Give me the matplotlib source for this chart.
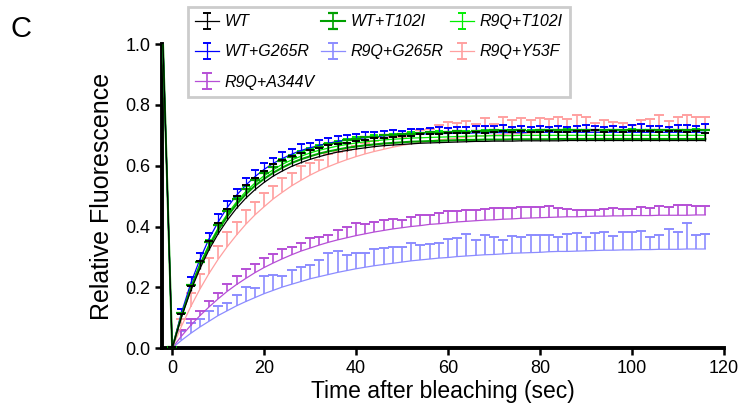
import matplotlib
matplotlib.use("Agg")
import matplotlib.pyplot as plt
import numpy as np

plt.rcParams['font.family'] = ['Liberation Sans', 'DejaVu Sans']

# time points (sec), -2 = pre-bleach
time = list(range(-2, 118, 2))

wt = [1.0,
      0.000, 0.101, 0.187, 0.260, 0.323, 0.376, 0.421, 0.460, 0.493, 0.521,
      0.545, 0.566, 0.583, 0.598, 0.610, 0.621, 0.630, 0.638, 0.645, 0.650,
      0.655, 0.659, 0.663, 0.666, 0.668, 0.670, 0.672, 0.674, 0.675, 0.676,
      0.677, 0.678, 0.679, 0.680, 0.680, 0.681, 0.681, 0.681, 0.682, 0.682,
      0.682, 0.682, 0.682, 0.683, 0.683, 0.683, 0.683, 0.683, 0.683, 0.683,
      0.683, 0.683, 0.683, 0.683, 0.683, 0.683, 0.683, 0.683, 0.683]
wt_err = [0.0,
          0.005, 0.012, 0.018, 0.025, 0.030, 0.035, 0.038, 0.040, 0.042, 0.040,
          0.038, 0.040, 0.036, 0.034, 0.033, 0.030, 0.028, 0.030, 0.027, 0.026,
          0.028, 0.025, 0.027, 0.024, 0.026, 0.028, 0.025, 0.029, 0.030, 0.027,
          0.031, 0.029, 0.030, 0.032, 0.028, 0.030, 0.033, 0.029, 0.031, 0.030,
          0.028, 0.032, 0.030, 0.029, 0.031, 0.030, 0.033, 0.028, 0.030, 0.029,
          0.031, 0.030, 0.032, 0.029, 0.030, 0.031, 0.028, 0.030, 0.026]

wt_t102i = [1.0,
            0.000, 0.105, 0.194, 0.270, 0.334, 0.388, 0.434, 0.473, 0.506, 0.534,
            0.557, 0.577, 0.594, 0.609, 0.621, 0.631, 0.640, 0.647, 0.653, 0.659,
            0.663, 0.667, 0.670, 0.673, 0.675, 0.677, 0.679, 0.680, 0.681, 0.682,
            0.683, 0.684, 0.685, 0.685, 0.686, 0.686, 0.686, 0.687, 0.687, 0.687,
            0.687, 0.687, 0.688, 0.688, 0.688, 0.688, 0.688, 0.688, 0.688, 0.688,
            0.688, 0.688, 0.688, 0.688, 0.688, 0.688, 0.688, 0.688, 0.688]
wt_t102i_err = [0.0,
                0.004, 0.010, 0.012, 0.014, 0.015, 0.016, 0.016, 0.017, 0.018, 0.018,
                0.019, 0.020, 0.020, 0.021, 0.022, 0.022, 0.023, 0.024, 0.023, 0.025,
                0.025, 0.026, 0.024, 0.027, 0.026, 0.028, 0.025, 0.027, 0.029, 0.026,
                0.028, 0.030, 0.027, 0.029, 0.028, 0.030, 0.027, 0.031, 0.029, 0.028,
                0.030, 0.029, 0.031, 0.028, 0.030, 0.029, 0.031, 0.030, 0.028, 0.030,
                0.029, 0.031, 0.030, 0.028, 0.030, 0.029, 0.031, 0.030, 0.029]

r9q_t102i = [1.0,
             0.000, 0.107, 0.198, 0.275, 0.340, 0.395, 0.441, 0.481, 0.515, 0.543,
             0.567, 0.587, 0.605, 0.619, 0.631, 0.642, 0.651, 0.658, 0.665, 0.670,
             0.675, 0.679, 0.682, 0.685, 0.687, 0.689, 0.691, 0.692, 0.693, 0.694,
             0.695, 0.696, 0.697, 0.698, 0.698, 0.699, 0.699, 0.699, 0.700, 0.700,
             0.700, 0.700, 0.700, 0.700, 0.700, 0.700, 0.700, 0.700, 0.700, 0.700,
             0.700, 0.700, 0.700, 0.700, 0.700, 0.700, 0.700, 0.700, 0.700]
r9q_t102i_err = [0.0,
                 0.004, 0.008, 0.010, 0.012, 0.014, 0.015, 0.016, 0.016, 0.017, 0.017,
                 0.016, 0.018, 0.017, 0.016, 0.018, 0.017, 0.016, 0.018, 0.017, 0.019,
                 0.018, 0.016, 0.019, 0.017, 0.018, 0.016, 0.019, 0.017, 0.018, 0.020,
                 0.017, 0.019, 0.018, 0.016, 0.019, 0.018, 0.020, 0.017, 0.019, 0.018,
                 0.016, 0.019, 0.018, 0.020, 0.017, 0.019, 0.018, 0.016, 0.019, 0.018,
                 0.020, 0.017, 0.019, 0.018, 0.016, 0.019, 0.018, 0.020, 0.017]

wt_g265r = [1.0,
            0.000, 0.115, 0.211, 0.291, 0.359, 0.415, 0.463, 0.503, 0.536, 0.564,
            0.588, 0.608, 0.624, 0.638, 0.650, 0.659, 0.667, 0.674, 0.680, 0.685,
            0.689, 0.692, 0.695, 0.698, 0.700, 0.701, 0.703, 0.704, 0.705, 0.706,
            0.706, 0.707, 0.707, 0.708, 0.708, 0.709, 0.709, 0.709, 0.709, 0.710,
            0.710, 0.710, 0.710, 0.710, 0.710, 0.710, 0.710, 0.710, 0.710, 0.710,
            0.710, 0.710, 0.710, 0.710, 0.710, 0.710, 0.710, 0.710, 0.710]
wt_g265r_err = [0.0,
                0.004, 0.013, 0.023, 0.022, 0.019, 0.025, 0.020, 0.022, 0.024, 0.021,
                0.020, 0.019, 0.021, 0.018, 0.020, 0.017, 0.019, 0.016, 0.018, 0.017,
                0.016, 0.018, 0.015, 0.017, 0.016, 0.014, 0.018, 0.016, 0.019, 0.021,
                0.017, 0.022, 0.020, 0.023, 0.022, 0.021, 0.024, 0.020, 0.022, 0.019,
                0.021, 0.018, 0.022, 0.017, 0.020, 0.025, 0.021, 0.019, 0.020, 0.018,
                0.023, 0.026, 0.022, 0.021, 0.018, 0.025, 0.023, 0.022, 0.027]

r9q_g265r = [1.0,
             0.000, 0.025, 0.048, 0.069, 0.088, 0.107, 0.123, 0.139, 0.153, 0.166,
             0.179, 0.190, 0.201, 0.210, 0.219, 0.228, 0.235, 0.242, 0.249, 0.255,
             0.261, 0.266, 0.271, 0.275, 0.279, 0.283, 0.287, 0.290, 0.293, 0.296,
             0.298, 0.301, 0.303, 0.305, 0.307, 0.308, 0.310, 0.312, 0.313, 0.314,
             0.315, 0.317, 0.318, 0.318, 0.319, 0.320, 0.321, 0.322, 0.322, 0.323,
             0.323, 0.324, 0.324, 0.325, 0.325, 0.325, 0.326, 0.326, 0.326]
r9q_g265r_err = [0.0,
                 0.005, 0.032, 0.035, 0.025, 0.035, 0.032, 0.026, 0.035, 0.048, 0.030,
                 0.059, 0.052, 0.037, 0.048, 0.048, 0.045, 0.056, 0.070, 0.069, 0.050,
                 0.053, 0.047, 0.054, 0.055, 0.052, 0.049, 0.058, 0.048, 0.049, 0.049,
                 0.060, 0.060, 0.072, 0.049, 0.065, 0.058, 0.047, 0.056, 0.054, 0.057,
                 0.058, 0.056, 0.046, 0.058, 0.061, 0.044, 0.056, 0.061, 0.047, 0.060,
                 0.060, 0.060, 0.042, 0.048, 0.066, 0.058, 0.084, 0.047, 0.048]

r9q_y53f = [1.0,
            0.000, 0.071, 0.135, 0.193, 0.245, 0.292, 0.334, 0.372, 0.407, 0.438,
            0.465, 0.491, 0.513, 0.534, 0.552, 0.569, 0.584, 0.597, 0.609, 0.620,
            0.630, 0.639, 0.647, 0.654, 0.661, 0.667, 0.672, 0.677, 0.681, 0.685,
            0.688, 0.691, 0.694, 0.697, 0.699, 0.701, 0.703, 0.705, 0.706, 0.708,
            0.709, 0.710, 0.711, 0.712, 0.713, 0.713, 0.714, 0.715, 0.715, 0.716,
            0.716, 0.716, 0.717, 0.717, 0.717, 0.718, 0.718, 0.718, 0.718]
r9q_y53f_err = [0.0,
                0.005, 0.025, 0.045, 0.050, 0.050, 0.045, 0.048, 0.044, 0.046, 0.042,
                0.045, 0.043, 0.045, 0.043, 0.047, 0.041, 0.034, 0.043, 0.037, 0.033,
                0.035, 0.036, 0.034, 0.037, 0.035, 0.028, 0.035, 0.039, 0.039, 0.048,
                0.057, 0.048, 0.054, 0.041, 0.058, 0.035, 0.056, 0.045, 0.052, 0.042,
                0.047, 0.044, 0.050, 0.042, 0.055, 0.046, 0.027, 0.036, 0.030, 0.023,
                0.019, 0.036, 0.036, 0.049, 0.031, 0.041, 0.049, 0.042, 0.041]

r9q_a344v = [1.0,
             0.000, 0.039, 0.074, 0.106, 0.135, 0.162, 0.187, 0.209, 0.229, 0.248,
             0.265, 0.280, 0.294, 0.307, 0.319, 0.329, 0.339, 0.348, 0.356, 0.363,
             0.370, 0.376, 0.382, 0.387, 0.392, 0.396, 0.400, 0.403, 0.407, 0.409,
             0.412, 0.415, 0.417, 0.419, 0.421, 0.422, 0.424, 0.425, 0.427, 0.428,
             0.429, 0.430, 0.431, 0.432, 0.432, 0.433, 0.434, 0.434, 0.435, 0.435,
             0.436, 0.436, 0.436, 0.437, 0.437, 0.437, 0.437, 0.438, 0.438]
r9q_a344v_err = [0.0,
                 0.004, 0.020, 0.020, 0.017, 0.020, 0.020, 0.024, 0.027, 0.030, 0.030,
                 0.032, 0.030, 0.031, 0.026, 0.027, 0.032, 0.027, 0.025, 0.032, 0.034,
                 0.042, 0.031, 0.034, 0.036, 0.034, 0.027, 0.031, 0.036, 0.030, 0.034,
                 0.039, 0.035, 0.036, 0.034, 0.036, 0.038, 0.036, 0.037, 0.036, 0.035,
                 0.035, 0.037, 0.029, 0.024, 0.021, 0.021, 0.021, 0.024, 0.027, 0.024,
                 0.021, 0.027, 0.025, 0.032, 0.026, 0.035, 0.033, 0.030, 0.030]

fig = plt.figure(figsize=(7.4, 4.09), dpi=100)
ax = fig.add_axes([0.219, 0.149, 0.759, 0.743])

def draw(vals, err, color, label, lw, elw, cap, capw, z):
    zeros = [0] * len(err)
    cont = ax.errorbar(time, vals, yerr=[zeros, err], color=color, lw=lw,
                       elinewidth=elw, capsize=cap, capthick=capw,
                       errorevery=(1, 1), label=label, zorder=z)
    # only the upper half of each bar has a cap
    means = np.asarray(vals)[1:]
    for c in cont[1]:
        yd = np.asarray(c.get_ydata(), dtype=float)
        if len(yd) == len(means) and np.allclose(yd, means):
            c.set_ydata(np.full(len(yd), np.nan))
    return cont

h_lb = draw(r9q_g265r, r9q_g265r_err, '#8c8cff', 'R9Q+G265R', 0.9, 1.2, 3.5, 1.4, 2)
h_pu = draw(r9q_a344v, r9q_a344v_err, '#b64fd6', 'R9Q+A344V', 0.9, 1.2, 3.5, 1.4, 3)
h_pk = draw(r9q_y53f, r9q_y53f_err, '#ffa0a0', 'R9Q+Y53F', 0.9, 1.2, 3.5, 1.4, 4)
h_lg = draw(r9q_t102i, r9q_t102i_err, '#00ee00', 'R9Q+T102I', 0.9, 0.9, 3.0, 1.4, 5)
h_bl = draw(wt_g265r, wt_g265r_err, '#0000ff', 'WT+G265R', 0.9, 0.9, 3.0, 1.4, 6)
h_dg = draw(wt_t102i, wt_t102i_err, '#00a000', 'WT+T102I', 1.5, 1.2, 3.5, 1.6, 7)
h_wt = draw(wt, wt_err, 'black', 'WT', 0.9, 0.9, 3.0, 1.4, 8)

ax.set_xlim(-2.2, 120)
ax.set_ylim(0, 1.0)
ax.set_xticks([0, 20, 40, 60, 80, 100, 120])
ax.set_yticks([0.0, 0.2, 0.4, 0.6, 0.8, 1.0])
ax.set_yticklabels(['0.0', '0.2', '0.4', '0.6', '0.8', '1.0'])
for s in ['top', 'right']:
    ax.spines[s].set_visible(False)
for s in ['left', 'bottom']:
    ax.spines[s].set_linewidth(2.8)
ax.tick_params(direction='out', length=5, width=1.8, labelsize=13)

ax.set_xlabel('Time after bleaching (sec)', fontsize=16.5, labelpad=2)
ax.set_ylabel('Relative Fluorescence', fontsize=18, labelpad=8)

handles = [h_wt, h_bl, h_pu, h_dg, h_lb, h_lg, h_pk]
leg = ax.legend(handles=handles, labels=[h.get_label() for h in handles],
                ncol=3, loc='upper left', bbox_to_anchor=(0.046, 1.122),
                borderaxespad=0,
                frameon=True, fancybox=False, framealpha=1, edgecolor='#cccccc',
                prop={'style': 'italic', 'size': 11.5}, handlelength=1.5,
                handletextpad=0.35, columnspacing=0.4, labelspacing=0.95,
                borderpad=0.45)
leg.get_frame().set_linewidth(2)

fig.text(0.014, 0.91, 'C', fontsize=21)

fig.savefig('out.png', dpi=100)
